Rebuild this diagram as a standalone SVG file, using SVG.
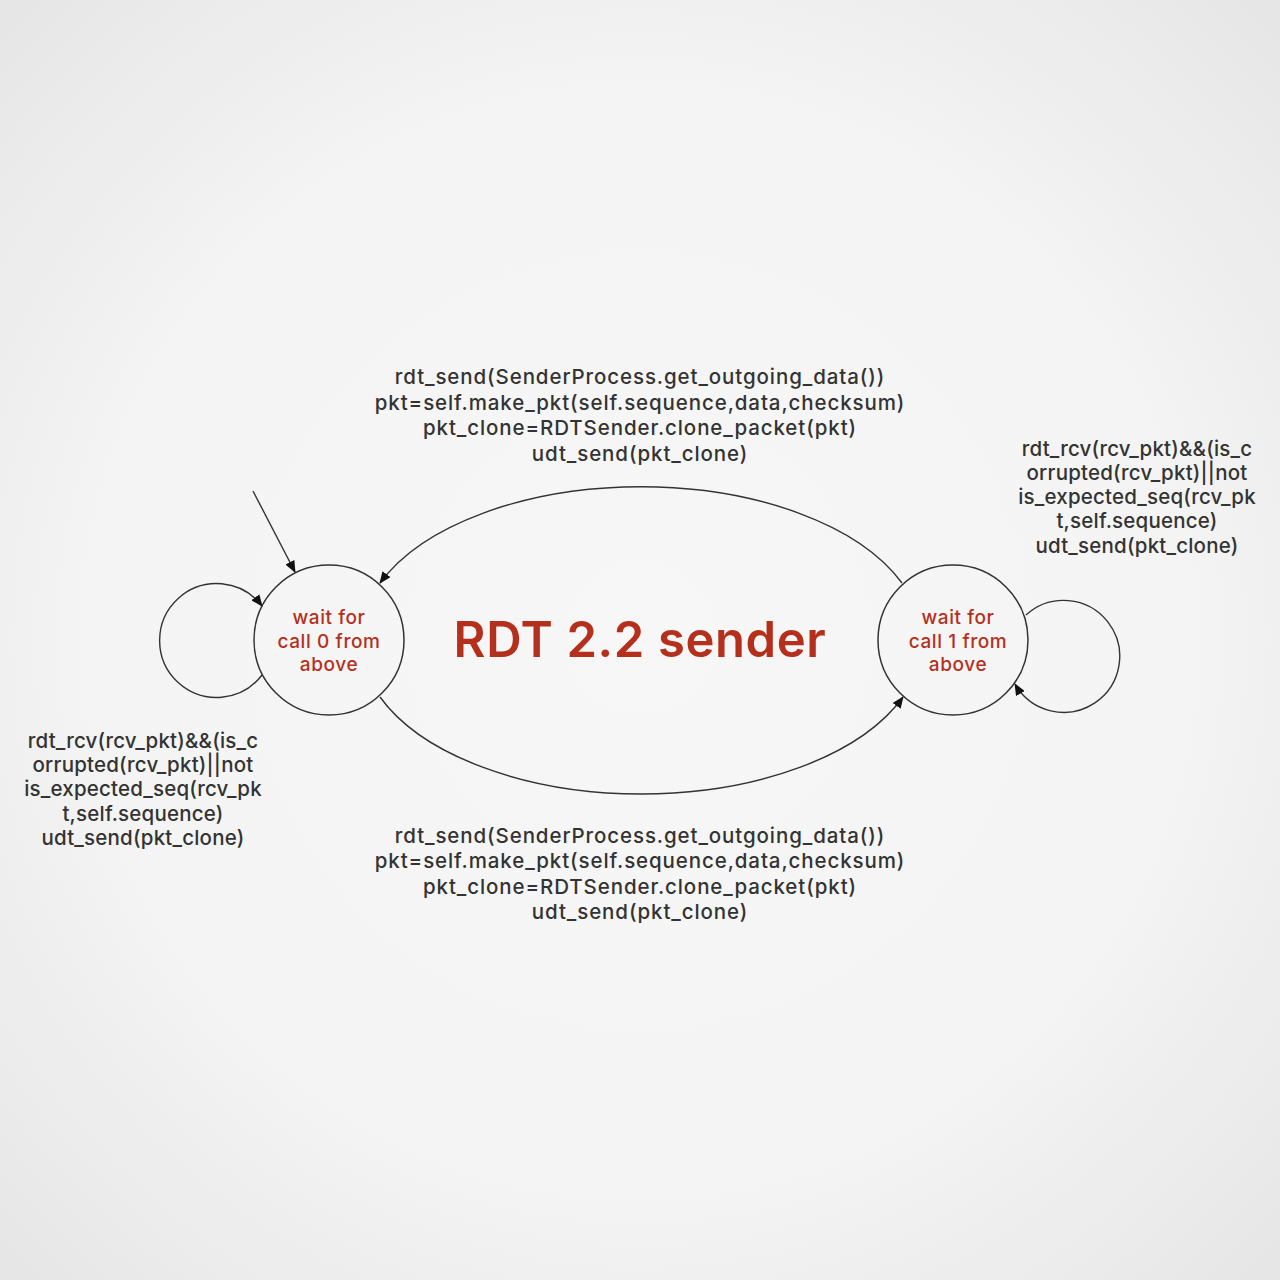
<svg xmlns="http://www.w3.org/2000/svg" width="1280" height="1280" viewBox="0 0 1280 1280">
<defs>
<radialGradient id="bg" cx="50%" cy="50%" r="70%">
<stop offset="0" stop-color="#f7f7f7"/>
<stop offset="0.6" stop-color="#f4f4f4"/>
<stop offset="1" stop-color="#e6e6e6"/>
</radialGradient>
<marker id="arr" viewBox="0 0 12 10" refX="11" refY="5" markerWidth="12" markerHeight="10" markerUnits="userSpaceOnUse" orient="auto">
<path d="M0,0 L12,5 L0,10 Z" fill="#111"/>
</marker>
<style>
.state{fill:none;stroke:#333;stroke-width:1.5}
.edge{fill:none;stroke:#333;stroke-width:1.4}
.st{font-family:Inter,"Liberation Sans",sans-serif;font-size:19px;font-weight:500;letter-spacing:0.6px;fill:#b5301c;text-anchor:middle}
.lb{font-family:Inter,"Liberation Sans",sans-serif;font-size:20.5px;font-weight:500;letter-spacing:0.9px;fill:#333;text-anchor:middle}
.sl{font-family:Inter,"Liberation Sans",sans-serif;font-size:20.5px;font-weight:500;letter-spacing:0.2px;fill:#333;text-anchor:middle}
.title{font-family:Inter,"Liberation Sans",sans-serif;font-size:49px;font-weight:600;letter-spacing:0.6px;fill:#b5301c;text-anchor:middle}
</style>
</defs>
<rect width="1280" height="1280" fill="url(#bg)"/>
<g id="connectors">
<path class="edge" d="M253,491 L295,572" marker-end="url(#arr)"/>
<path class="edge" d="M902,583 A281,153 0 0 0 380,583" marker-end="url(#arr)"/>
<path class="edge" d="M380,697 A281,153 0 0 0 903,697" marker-end="url(#arr)"/>
<path class="edge" d="M262,675 A57,57 0 1 1 262,606" marker-end="url(#arr)"/>
<path class="edge" d="M1026,615 A56,56 0 1 1 1015,684" marker-end="url(#arr)"/>
</g>
<g id="state0">
<circle class="state" cx="329" cy="640" r="75"/>
<text class="st" x="329" y="624">wait for</text>
<text class="st" x="329" y="648">call 0 from</text>
<text class="st" x="329" y="671">above</text>
</g>
<g id="state1">
<circle class="state" cx="953" cy="640" r="75"/>
<text class="st" x="958" y="624">wait for</text>
<text class="st" x="958" y="648">call 1 from</text>
<text class="st" x="958" y="671">above</text>
</g>
<g id="title">
<text class="title" x="640" y="657">RDT 2.2 sender</text>
</g>
<g id="labels">
<text class="lb" x="640" y="384">rdt_send(SenderProcess.get_outgoing_data())</text>
<text class="lb" x="640" y="410">pkt=self.make_pkt(self.sequence,data,checksum)</text>
<text class="lb" x="640" y="435">pkt_clone=RDTSender.clone_packet(pkt)</text>
<text class="lb" x="640" y="461">udt_send(pkt_clone)</text>
<text class="lb" x="640" y="843">rdt_send(SenderProcess.get_outgoing_data())</text>
<text class="lb" x="640" y="868">pkt=self.make_pkt(self.sequence,data,checksum)</text>
<text class="lb" x="640" y="894">pkt_clone=RDTSender.clone_packet(pkt)</text>
<text class="lb" x="640" y="919">udt_send(pkt_clone)</text>
<text class="sl" x="143" y="748">rdt_rcv(rcv_pkt)&amp;&amp;(is_c</text>
<text class="sl" x="143" y="772">orrupted(rcv_pkt)||not</text>
<text class="sl" x="143" y="796">is_expected_seq(rcv_pk</text>
<text class="sl" x="143" y="821">t,self.sequence)</text>
<text class="sl" x="143" y="845">udt_send(pkt_clone)</text>
<text class="sl" x="1137" y="456">rdt_rcv(rcv_pkt)&amp;&amp;(is_c</text>
<text class="sl" x="1137" y="480">orrupted(rcv_pkt)||not</text>
<text class="sl" x="1137" y="504">is_expected_seq(rcv_pk</text>
<text class="sl" x="1137" y="528">t,self.sequence)</text>
<text class="sl" x="1137" y="553">udt_send(pkt_clone)</text>
</g>
</svg>
